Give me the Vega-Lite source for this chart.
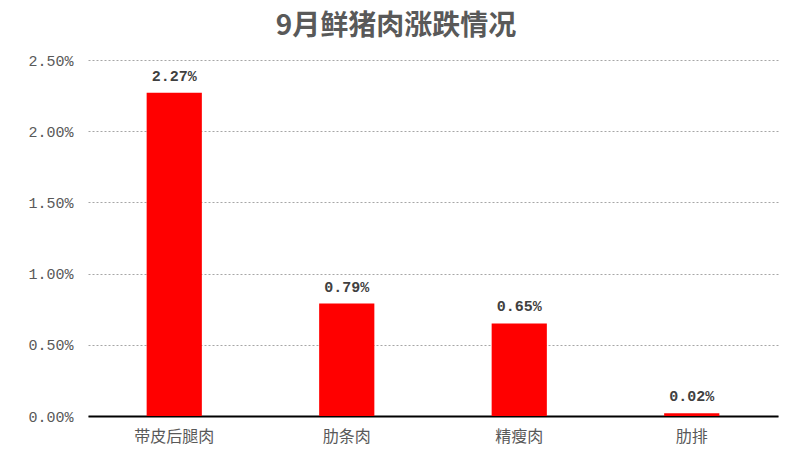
{
  "$schema": "https://vega.github.io/schema/vega-lite/v6.json",
  "autosize": "none",
  "width": 690,
  "height": 356,
  "padding": {"left": 88, "top": 60, "right": 22, "bottom": 47},
  "background": "white",
  "config": {"view": {"stroke": null}},
  "title": {
    "text": "9月鲜猪肉涨跌情况",
    "font": "Noto Sans CJK SC",
    "fontSize": 28,
    "fontWeight": "bold",
    "color": "#595959",
    "anchor": "middle",
    "dx": -37,
    "offset": 12,
    "limit": 0
  },
  "data": {
    "values": [
      {"category": "带皮后腿肉", "value": 0.0227},
      {"category": "肋条肉", "value": 0.0079},
      {"category": "精瘦肉", "value": 0.0065},
      {"category": "肋排", "value": 0.0002}
    ]
  },
  "encoding": {
    "x": {
      "field": "category",
      "type": "nominal",
      "sort": null,
      "scale": {"paddingInner": 0.68, "paddingOuter": 0.34},
      "axis": {
        "title": null,
        "labelAngle": 0,
        "labelFont": "Noto Sans CJK SC",
        "labelFontSize": 16,
        "labelColor": "#595959",
        "labelPadding": 12,
        "ticks": false,
        "domainColor": "#000000",
        "domainWidth": 2
      }
    },
    "y": {
      "field": "value",
      "type": "quantitative",
      "scale": {"domain": [0, 0.025]},
      "axis": {
        "title": null,
        "format": ".2%",
        "values": [0, 0.005, 0.01, 0.015, 0.02, 0.025],
        "labelFont": "Liberation Mono",
        "labelFontSize": 15,
        "labelColor": "#595959",
        "labelPadding": 15,
        "ticks": false,
        "domain": false,
        "grid": true,
        "gridColor": "#a6a6a6",
        "gridDash": [2, 2],
        "gridWidth": 1
      }
    }
  },
  "layer": [
    {"mark": {"type": "bar", "color": "#ff0000"}},
    {
      "mark": {
        "type": "text",
        "baseline": "bottom",
        "dy": -9,
        "font": "Liberation Mono",
        "fontSize": 15,
        "fontWeight": "bold",
        "color": "#404040"
      },
      "encoding": {"text": {"field": "value", "type": "quantitative", "format": ".2%"}}
    }
  ]
}
